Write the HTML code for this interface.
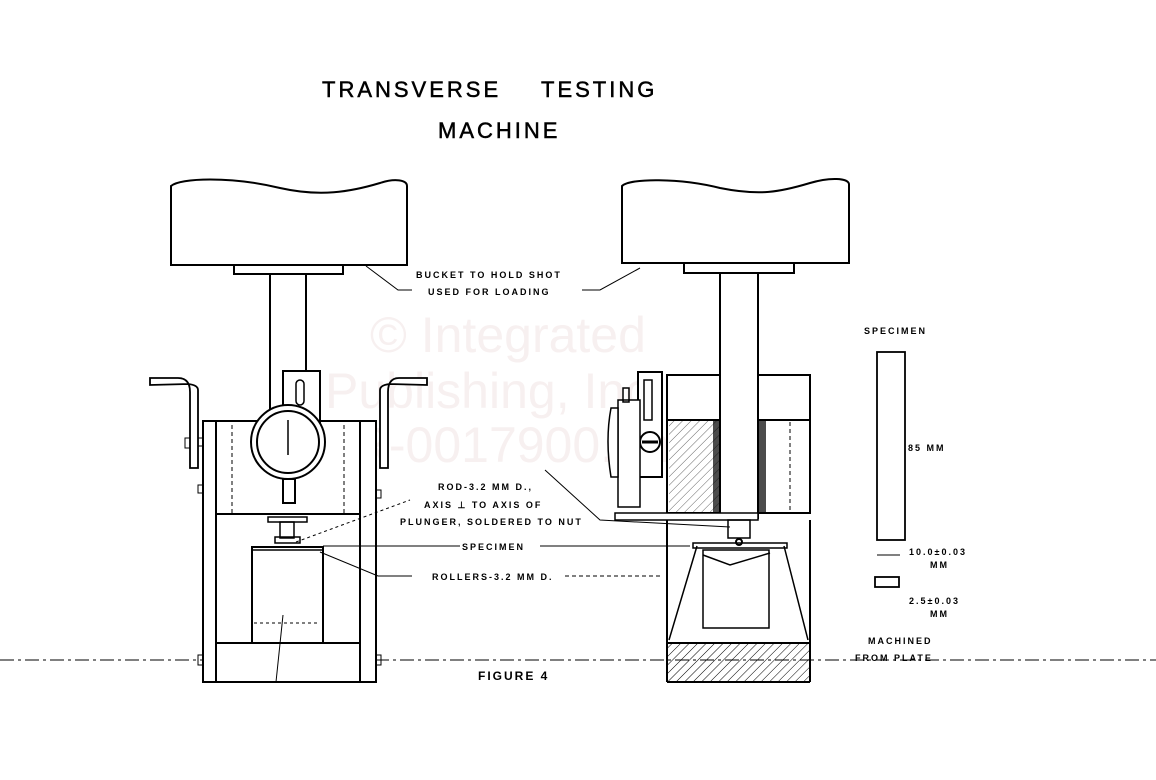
<!DOCTYPE html>
<html><head><meta charset="utf-8"><style>
html,body{margin:0;padding:0;background:#fff;}
svg{display:block;}
text{font-family:"Liberation Sans",sans-serif;fill:#000;}
.l{font-size:9px;font-weight:bold;letter-spacing:2px;}
</style></head><body>
<svg width="1156" height="780" viewBox="0 0 1156 780" xmlns="http://www.w3.org/2000/svg">
<defs>
<pattern id="h" width="6" height="6" patternUnits="userSpaceOnUse" patternTransform="rotate(45)">
<line x1="0" y1="0" x2="0" y2="6" stroke="#000" stroke-width="1"/></pattern>
</defs>
<g fill="none" stroke="#000" stroke-width="2">
<g stroke="none">
<text x="370" y="352" font-size="50" style="fill:#f7f0f0">© Integrated</text>
<text x="325" y="408" font-size="50" style="fill:#f7f0f0">Publishing, Inc.</text>
<text x="300" y="462" font-size="50" style="fill:#f7f0f0">U-R-0017900.png</text>
</g>
<line x1="0" y1="660" x2="1156" y2="660" stroke-width="1" stroke-dasharray="14,4,3,4"/>

<!-- LEFT MACHINE -->
<path d="M171,186 C180,178 230,176 280,188 C320,197 350,192 380,183 C395,178 407,180 407,186 L407,265 L171,265 Z" fill="#fff"/>
<rect x="234" y="265" width="109" height="9" fill="#fff"/>
<rect x="270" y="274" width="36" height="148" fill="#fff"/>
<path d="M150,378 L178,378 Q190,378 190,392 L190,468 L198,468 L198,390 Q198,385 188,384 L150,385 Z" fill="#fff" stroke-width="1.8"/>
<path d="M427,378 L399,378 Q388,378 388,392 L388,468 L380,468 L380,390 Q380,385 390,384 L427,385 Z" fill="#fff" stroke-width="1.8"/>
<rect x="203" y="421" width="173" height="261" fill="#fff"/>
<line x1="216" y1="421" x2="216" y2="682"/>
<line x1="360" y1="421" x2="360" y2="682"/>
<line x1="216" y1="514" x2="360" y2="514"/>
<line x1="216" y1="643" x2="360" y2="643"/>
<line x1="232" y1="425" x2="232" y2="514" stroke-width="1" stroke-dasharray="4,3"/>
<line x1="344" y1="425" x2="344" y2="514" stroke-width="1" stroke-dasharray="4,3"/>
<rect x="198" y="438" width="5" height="8" stroke-width="1"/>
<rect x="185" y="438" width="5" height="10" stroke-width="1"/>
<rect x="376" y="490" width="5" height="8" stroke-width="1"/>
<rect x="198" y="485" width="5" height="8" stroke-width="1"/>
<rect x="198" y="655" width="5" height="10" stroke-width="1"/>
<rect x="376" y="655" width="5" height="10" stroke-width="1"/>
<rect x="283" y="371" width="37" height="70" fill="#fff"/>
<rect x="296" y="380" width="8" height="25" rx="4" stroke-width="1.5"/>
<circle cx="288" cy="442" r="37" fill="#fff"/>
<circle cx="288" cy="442" r="31"/>
<line x1="288" y1="420" x2="288" y2="455" stroke-width="1.5"/>
<rect x="283" y="479" width="12" height="24" fill="#fff"/>
<rect x="268" y="517" width="39" height="5" fill="#fff" stroke-width="1.5"/>
<rect x="280" y="522" width="14" height="16" stroke-width="1.5"/>
<rect x="275" y="537" width="25" height="6" stroke-width="1.5"/>
<rect x="252" y="547" width="71" height="96" fill="#fff"/>
<line x1="252" y1="550" x2="323" y2="550" stroke-width="1.5"/>
<line x1="254" y1="623" x2="320" y2="623" stroke-width="1" stroke-dasharray="3,3"/>
<line x1="283" y1="615" x2="276" y2="682" stroke-width="1"/>

<!-- RIGHT MACHINE -->
<path d="M622,186 C630,178 680,178 720,188 C760,196 780,192 810,183 C830,177 848,178 849,184 L849,263 L622,263 Z" fill="#fff"/>
<rect x="684" y="263" width="110" height="10" fill="#fff"/>
<rect x="667" y="375" width="143" height="138" fill="#fff"/>
<line x1="667" y1="420" x2="810" y2="420"/>
<rect x="669" y="421" width="51" height="92" fill="url(#h)" stroke="none" opacity="0.6"/>
<rect x="713" y="421" width="7" height="92" fill="#000" stroke="none" opacity="0.7"/>
<rect x="759" y="421" width="7" height="92" fill="#000" stroke="none" opacity="0.7"/>
<line x1="790" y1="422" x2="790" y2="512" stroke-width="1" stroke-dasharray="4,3"/>
<rect x="720" y="273" width="38" height="245" fill="#fff"/>
<rect x="638" y="372" width="24" height="105" fill="#fff"/>
<rect x="644" y="380" width="8" height="40" stroke-width="1.5"/>
<circle cx="650" cy="442" r="10" fill="#fff"/>
<line x1="642" y1="442" x2="658" y2="442" stroke-width="3"/>
<rect x="618" y="400" width="22" height="107" fill="#fff" stroke-width="1.5"/>
<path d="M611,408 Q605,440 611,477 L618,477 L618,408 Z" fill="#fff" stroke-width="1.5"/>
<rect x="623" y="388" width="6" height="14" stroke-width="1.5"/>
<rect x="615" y="513" width="143" height="7" fill="#fff" stroke-width="1.5"/>
<rect x="728" y="520" width="22" height="18" stroke-width="1.5"/>
<circle cx="739" cy="542" r="3"/>
<line x1="667" y1="520" x2="667" y2="682"/>
<line x1="810" y1="520" x2="810" y2="682"/>
<line x1="667" y1="682" x2="810" y2="682"/>
<rect x="667" y="643" width="143" height="39" fill="url(#h)" stroke="none"/>
<line x1="667" y1="643" x2="810" y2="643"/>
<path d="M697,546 L669,640 M784,546 L808,640" stroke-width="1.5"/>
<rect x="693" y="543" width="94" height="5" stroke-width="1.5"/>
<rect x="703" y="550" width="66" height="78" stroke-width="1.5"/>
<path d="M703,555 L730,565 L770,553" stroke-width="1.5"/>

<g stroke-width="1">
<path d="M366,266 L398,290 L412,290"/>
<path d="M582,290 L600,290 L640,268"/>
<path d="M296,542 L410,500" stroke-dasharray="3,3"/>
<path d="M323,546 L460,546"/>
<path d="M540,546 L690,546"/>
<path d="M320,552 L378,576 L412,576"/>
<path d="M565,576 L660,576" stroke-dasharray="4,3"/>
<path d="M545,470 L600,520 L730,527"/>
<path d="M877,555 L900,555"/>
</g>
<rect x="877" y="352" width="28" height="188" fill="#fff" stroke-width="1.8"/>
<rect x="875" y="577" width="24" height="10" stroke-width="1.8"/>
</g>

<text x="322" y="97" font-size="22" font-weight="bold" letter-spacing="3" style="font-weight:normal;stroke:#000;stroke-width:0.5">TRANSVERSE</text>
<text x="541" y="97" font-size="22" letter-spacing="3" style="stroke:#000;stroke-width:0.5">TESTING</text>
<text x="438" y="138" font-size="22" letter-spacing="3" style="stroke:#000;stroke-width:0.5">MACHINE</text>
<text x="416" y="278" class="l">BUCKET TO HOLD SHOT</text>
<text x="428" y="295" class="l">USED FOR LOADING</text>
<text x="438" y="490" class="l">ROD-3.2 MM D.,</text>
<text x="424" y="508" class="l">AXIS ⊥ TO AXIS OF</text>
<text x="400" y="525" class="l">PLUNGER, SOLDERED TO NUT</text>
<text x="462" y="550" class="l">SPECIMEN</text>
<text x="432" y="580" class="l">ROLLERS-3.2 MM D.</text>
<text x="864" y="334" class="l">SPECIMEN</text>
<text x="908" y="451" class="l">85 MM</text>
<text x="909" y="555" class="l">10.0±0.03</text>
<text x="930" y="568" class="l">MM</text>
<text x="909" y="604" class="l">2.5±0.03</text>
<text x="930" y="617" class="l">MM</text>
<text x="868" y="644" class="l">MACHINED</text>
<text x="855" y="661" class="l">FROM PLATE</text>
<text x="478" y="680" font-size="12" font-weight="bold" letter-spacing="2">FIGURE 4</text>
</svg>
</body></html>
